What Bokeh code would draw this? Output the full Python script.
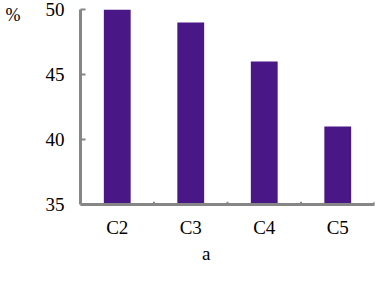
from bokeh.plotting import figure
from bokeh.models import FixedTicker, LinearAxis, Range1d, ColumnDataSource
from bokeh.embed import file_html
from bokeh.resources import INLINE

categories = ["C2", "C3", "C4", "C5"]
values = [50, 49, 46, 41]
y_ticks = [35, 40, 45, 50]
y_unit = "%"
x_title = "a"

FONT = "Liberation Serif"
AXIS_COLOR = "#868686"
BAR_COLOR = "#4a1787"

n = len(categories)
centers = [i + 0.5 for i in range(n)]
boundaries = [i + 1 for i in range(n)]

W, H = 376, 266
TOP, BOTTOM, LEFT, RIGHT = 9, 59, 80, 2
p = figure(width=W, height=H, output_backend="svg", toolbar_location=None,
           x_range=Range1d(0, n), y_range=Range1d(min(y_ticks), max(y_ticks)),
           min_border_left=LEFT, min_border_right=RIGHT,
           min_border_top=TOP, min_border_bottom=BOTTOM)
p.outline_line_color = None
p.xgrid.visible = False
p.ygrid.visible = False
p.background_fill_color = "white"
p.border_fill_color = "white"

src = ColumnDataSource(dict(x=centers, top=values, cat=categories))
p.vbar(x="x", top="top", bottom=min(y_ticks), width=0.365, source=src,
       fill_color=BAR_COLOR, line_color=None)

# tick marks between categories on the x axis
p.segment(x0=boundaries, x1=boundaries, y0=[min(y_ticks)] * n,
          y1=[min(y_ticks) + 0.22] * n, line_color=AXIS_COLOR, line_width=2)


def style_labels(ax, font, size, standoff):
    ax.major_label_text_font = font
    ax.major_label_text_font_size = size
    ax.major_label_text_font_style = "normal"
    ax.major_label_text_color = "black"
    ax.major_label_standoff = standoff
    ax.major_tick_out = 0
    ax.minor_tick_out = 0
    ax.minor_tick_in = 0
    ax.minor_tick_line_color = None


xa = p.xaxis[0]
xa.ticker = FixedTicker(ticks=centers)
xa.major_label_overrides = {c: lab for c, lab in zip(centers, categories)}
xa.axis_line_color = AXIS_COLOR
xa.axis_line_width = 3
style_labels(xa, FONT, "19px", 12)
xa.major_tick_in = 0

ya = p.yaxis[0]
ya.ticker = FixedTicker(ticks=y_ticks)
ya.major_tick_line_color = AXIS_COLOR
ya.major_tick_line_width = 2
ya.axis_line_color = AXIS_COLOR
ya.axis_line_width = 3
style_labels(ya, FONT, "19px", 16)
ya.major_tick_in = 5

# x-axis title "a" as a second, line-less axis below, at its own position
a_pos = 1.71
xt = LinearAxis(ticker=FixedTicker(ticks=[a_pos]),
                major_label_overrides={a_pos: x_title},
                axis_line_color=None, major_tick_line_color=None)
style_labels(xt, FONT, "19px", 2)
xt.major_tick_in = 0
p.add_layout(xt, "below")

# unit "%" as a second, line-less axis at the left
u_pos = 49.6
yt = LinearAxis(ticker=FixedTicker(ticks=[u_pos]),
                major_label_overrides={u_pos: y_unit},
                axis_line_color=None, major_tick_line_color=None)
style_labels(yt, FONT, "18px", 22)
yt.major_tick_in = 0
p.add_layout(yt, "left")

open("out.html", "w").write(file_html(p, INLINE))
